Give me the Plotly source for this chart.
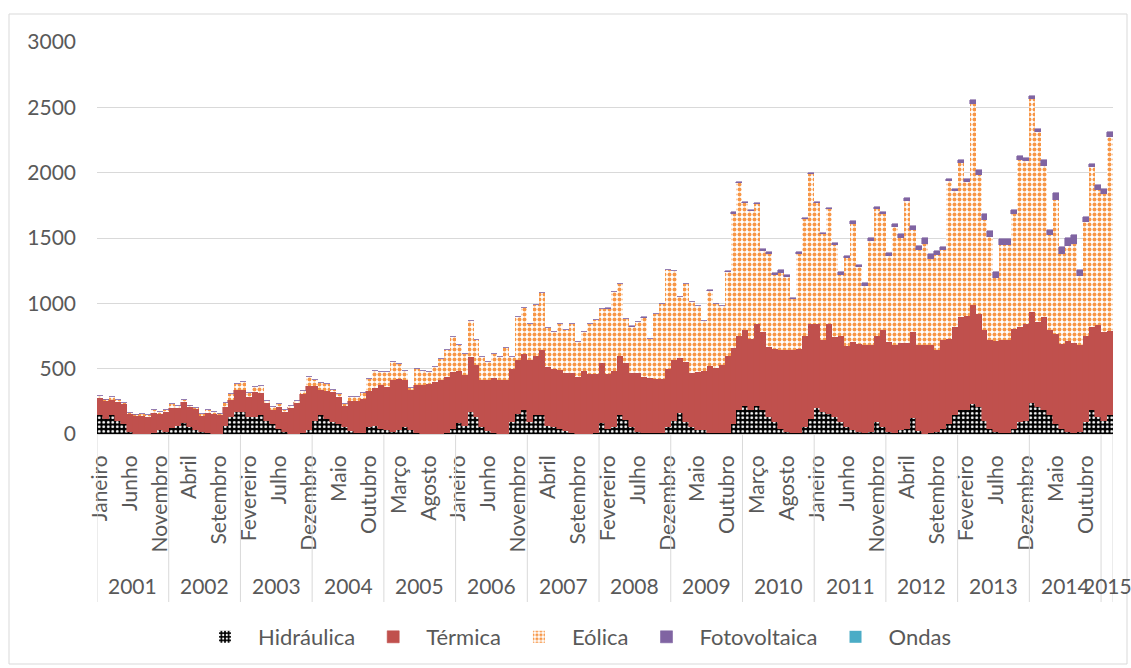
import plotly.graph_objects as go

# Produção mensal por fonte (GWh), janeiro 2001 a fevereiro 2015
anos = ["2001", "2002", "2003", "2004", "2005", "2006", "2007",
        "2008", "2009", "2010", "2011", "2012", "2013", "2014", "2015"]
meses_por_ano = [12, 12, 12, 12, 12, 12, 12, 12, 12, 12, 12, 12, 12, 12, 2]
meses = ["Janeiro", "Fevereiro", "Março", "Abril", "Maio", "Junho",
         "Julho", "Agosto", "Setembro", "Outubro", "Novembro", "Dezembro"]

hidraulica = [
    142, 116, 142, 98, 73, 14, 3, 2, 2, 5, 27, 14,
    47, 65, 83, 52, 32, 14, 5, 3, 3, 65, 129, 167,
    167, 129, 129, 142, 103, 78, 40, 14, 3, 3, 5, 27,
    103, 149, 116, 91, 78, 52, 20, 4, 4, 52, 65, 40,
    27, 14, 27, 57, 27, 6, 2, 2, 2, 3, 6, 40,
    83, 65, 167, 134, 52, 22, 6, 3, 3, 91, 154, 180,
    91, 147, 142, 65, 52, 40, 22, 6, 3, 3, 3, 4,
    83, 40, 52, 142, 109, 57, 14, 5, 5, 5, 5, 52,
    103, 160, 91, 52, 32, 27, 8, 8, 8, 8, 78, 180,
    218, 185, 218, 180, 134, 91, 40, 14, 8, 8, 52, 116,
    200, 167, 154, 129, 91, 52, 27, 14, 6, 14, 91, 52,
    14, 6, 27, 40, 121, 22, 3, 6, 14, 40, 78, 142,
    185, 185, 226, 206, 103, 40, 14, 6, 6, 40, 91, 103,
    236, 206, 185, 142, 78, 40, 14, 6, 14, 91, 185, 129,
    103, 142,
]

termica = [
    132, 141, 115, 148, 158, 146, 139, 140, 135, 157, 133, 153,
    151, 141, 161, 161, 161, 128, 155, 151, 144, 141, 133, 171,
    171, 153, 191, 171, 133, 107, 171, 153, 203, 241, 303, 344,
    261, 189, 217, 229, 204, 166, 236, 247, 265, 281, 289, 332,
    332, 401, 396, 353, 311, 366, 375, 382, 395, 412, 429, 434,
    403, 383, 421, 391, 365, 388, 424, 412, 407, 408, 409, 434,
    472, 447, 503, 447, 447, 451, 444, 460, 432, 483, 453, 457,
    459, 416, 429, 452, 434, 409, 452, 435, 425, 418, 418, 447,
    460, 423, 459, 414, 442, 454, 509, 499, 524, 586, 582, 574,
    575, 544, 621, 600, 531, 561, 600, 631, 632, 644, 695, 728,
    644, 549, 685, 613, 656, 618, 676, 674, 672, 671, 663, 746,
    689, 672, 669, 656, 659, 663, 682, 672, 626, 681, 651, 681,
    710, 715, 758, 714, 695, 676, 697, 710, 710, 765, 732, 736,
    697, 651, 710, 656, 689, 651, 697, 690, 671, 656, 638, 702,
    677, 646,
]

eolica = [
    18, 7, 25, 16, 5, 3, 7, 12, 10, 18, 7, 18,
    28, 12, 18, 5, 3, 12, 25, 13, 7, 30, 41, 41,
    59, 31, 39, 51, 20, 21, 15, 18, 12, 12, 25, 64,
    51, 51, 46, 18, 21, 13, 26, 36, 44, 90, 132, 102,
    115, 135, 114, 76, 16, 127, 109, 90, 115, 161, 205, 268,
    192, 166, 276, 191, 171, 140, 179, 173, 250, 89, 332, 352,
    281, 390, 434, 301, 281, 353, 327, 378, 268, 294, 383, 413,
    414, 503, 605, 551, 339, 357, 391, 450, 299, 492, 574, 758,
    684, 465, 595, 544, 503, 384, 577, 485, 445, 646, 1026, 1167,
    975, 978, 919, 621, 710, 562, 592, 556, 393, 728, 898, 1148,
    924, 812, 882, 703, 472, 674, 901, 587, 457, 792, 965, 883,
    662, 906, 806, 1090, 784, 720, 771, 661, 727, 684, 1205, 1034,
    1179, 1029, 1545, 1065, 837, 791, 482, 733, 733, 876, 1272, 1248,
    1631, 1455, 1156, 722, 1021, 689, 725, 760, 521, 875, 1220, 1039,
    1059, 1485,
]

fotovoltaica = [
    0, 0, 0, 0, 0, 0, 0, 0, 0, 0, 0, 0,
    0, 0, 0, 0, 0, 0, 0, 0, 0, 0, 0, 0,
    0, 0, 0, 0, 0, 0, 0, 0, 0, 0, 0, 0,
    0, 0, 0, 0, 0, 0, 0, 0, 0, 0, 0, 0,
    0, 0, 0, 0, 0, 0, 0, 0, 0, 0, 0, 0,
    0, 0, 0, 0, 0, 0, 0, 0, 0, 0, 0, 0,
    1, 1, 1, 1, 1, 1, 1, 1, 1, 1, 1, 1,
    2, 2, 2, 2, 2, 2, 2, 2, 2, 2, 2, 2,
    2, 2, 3, 3, 3, 3, 10, 5, 5, 8, 10, 10,
    10, 10, 10, 12, 15, 18, 20, 18, 12, 12, 8, 8,
    10, 10, 12, 15, 20, 22, 28, 22, 23, 23, 18, 15,
    20, 26, 26, 23, 31, 36, 43, 36, 33, 26, 20, 20,
    20, 26, 26, 38, 46, 46, 46, 46, 41, 31, 31, 28,
    26, 26, 43, 43, 56, 51, 66, 69, 51, 43, 26, 38,
    38, 38,
]

ondas = [
    0, 0, 0, 0, 0, 0, 0, 0, 0, 0, 0, 0,
    0, 0, 0, 0, 0, 0, 0, 0, 0, 0, 0, 0,
    0, 0, 0, 0, 0, 0, 0, 0, 0, 0, 0, 0,
    0, 0, 0, 0, 0, 0, 0, 0, 0, 0, 0, 0,
    0, 0, 0, 0, 0, 0, 0, 0, 0, 0, 0, 0,
    0, 0, 0, 0, 0, 0, 0, 0, 0, 0, 0, 0,
    0, 0, 0, 0, 0, 0, 0, 0, 0, 0, 0, 0,
    0, 0, 0, 0, 0, 0, 0, 0, 0, 0, 0, 0,
    0, 0, 0, 0, 0, 0, 0, 0, 0, 0, 0, 0,
    0, 0, 0, 0, 0, 0, 0, 0, 0, 0, 0, 0,
    0, 0, 0, 0, 0, 0, 0, 0, 0, 0, 0, 0,
    0, 0, 0, 0, 0, 0, 0, 0, 0, 0, 0, 0,
    0, 0, 0, 0, 0, 0, 0, 0, 0, 0, 0, 0,
    0, 0, 0, 0, 0, 0, 0, 0, 0, 0, 0, 0,
    0, 0,
]

FONT = "Lato"
GREY = "#595959"
LINE = "#d9d9d9"

# (ano, mês) for every bar, in order
periodos = [(ano, mes) for ano, k in zip(anos, meses_por_ano) for mes in meses[:k]]
n = len(periodos)
x = list(range(n))

series = [
    ("Hidráulica", hidraulica,
     dict(color="black",
          pattern=dict(shape=".", bgcolor="black", fgcolor="white", size=4.5, solidity=0.3))),
    ("Térmica", termica,
     dict(color="#C0504D", line=dict(color="#C0504D", width=0.6))),
    ("Eólica", eolica,
     dict(color="#F79646",
          pattern=dict(shape=".", bgcolor="white", fgcolor="#F79646", size=5, solidity=0.5))),
    ("Fotovoltaica", fotovoltaica,
     dict(color="#8064A2", line=dict(color="#8064A2", width=0.6))),
    ("Ondas", ondas, dict(color="#4BACC6")),
]

fig = go.Figure()
for nome, valores, marker in series:
    fig.add_trace(go.Bar(x=x, y=valores, name=nome, marker=marker))

# month labels every fifth month
tickvals = list(range(0, n, 5))
ticktext = [periodos[i][1] for i in tickvals]

# pixel helpers for the plot box (l=97, t=42, w=1016, h=392)
def px_x(p):
    return (p - 97) / 1016

def px_y(p):
    return (434 - p) / 392

shapes = []
annotations = []
inicio = 0
for ano, k in zip(anos, meses_por_ano):
    shapes.append(dict(type="line", xref="x", yref="paper",
                       x0=inicio - 0.5, x1=inicio - 0.5, y0=0, y1=px_y(602),
                       line=dict(color=LINE, width=1)))
    annotations.append(dict(x=inicio + (k - 1) / 2, y=px_y(585), xref="x", yref="paper",
                            text=ano, showarrow=False, xanchor="center", yanchor="middle",
                            font=dict(family=FONT, size=21, color=GREY)))
    inicio += k
shapes.append(dict(type="line", xref="x", yref="paper",
                   x0=inicio - 0.5, x1=inicio - 0.5, y0=0, y1=px_y(602),
                   line=dict(color=LINE, width=1)))

# chart border
shapes.append(dict(type="rect", xref="paper", yref="paper",
                   x0=px_x(9), x1=px_x(1127), y0=px_y(664), y1=px_y(14),
                   line=dict(color=LINE, width=1), fillcolor="rgba(0,0,0,0)", layer="below"))

fig.update_layout(
    width=1131, height=668,
    template="none",
    margin=dict(l=97, r=18, t=42, b=234, autoexpand=False),
    paper_bgcolor="white", plot_bgcolor="white",
    barmode="stack", bargap=0,
    font=dict(family=FONT, size=21, color=GREY),
    showlegend=True,
    legend=dict(orientation="h", x=px_x(574), xanchor="center",
                y=px_y(637), yanchor="middle", itemwidth=56,
                traceorder="normal", font=dict(family=FONT, size=22, color=GREY),
                bgcolor="rgba(0,0,0,0)"),
    xaxis=dict(range=[-0.5, n - 0.5], tickmode="array", tickvals=tickvals, ticktext=ticktext,
               tickangle=-90, showgrid=False, zeroline=False, showline=True,
               linecolor=LINE, linewidth=1, ticks="", ticklabelstandoff=12,
               automargin=False, tickfont=dict(family=FONT, size=21, color=GREY)),
    yaxis=dict(range=[0, 3001], tick0=0, dtick=500, showgrid=True, gridcolor=LINE,
               gridwidth=1.3, zeroline=False, showline=False, ticks="",
               ticklabelstandoff=20, automargin=False,
               tickfont=dict(family=FONT, size=21, color=GREY)),
    shapes=shapes,
    annotations=annotations,
)

fig.write_html("out.html")
